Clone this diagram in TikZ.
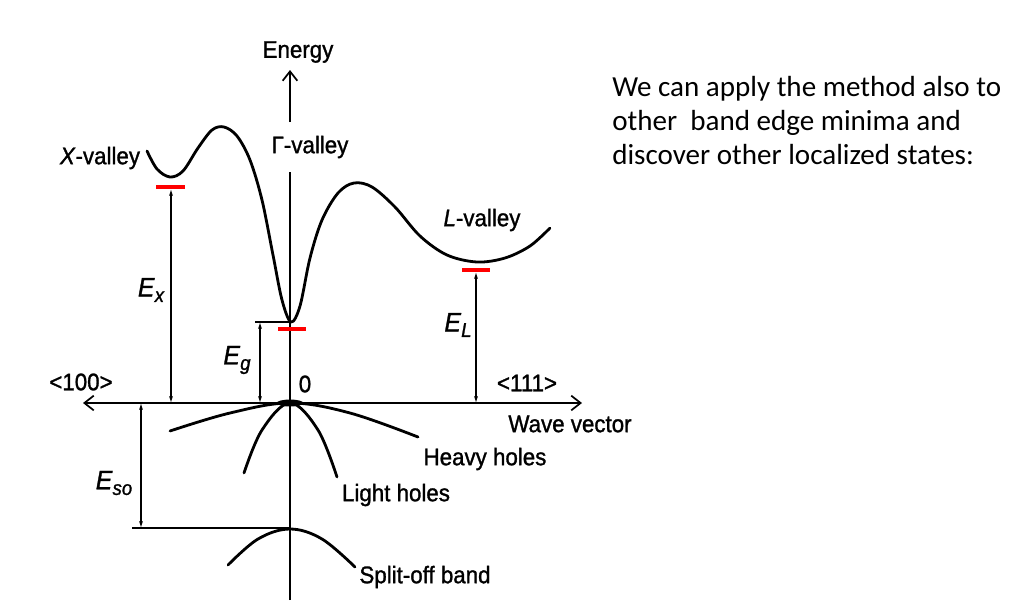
\documentclass[tikz,border=0pt]{standalone}
\usepackage{fontspec}
\setmainfont{Carlito}
\newfontfamily\din[FakeStretch=0.93,FakeBold=1.2]{Liberation Sans}
\usetikzlibrary{arrows.meta}
\newcommand{\sbx}[1]{\raisebox{-0.4ex}{\fontsize{15}{15}\selectfont\itshape #1}}
\begin{document}
\begin{tikzpicture}[x=0.75pt,y=-0.75pt,
  band/.style={line width=2.1pt, line cap=round, line join=round},
  thinline/.style={line width=0.9pt},
  dim/.style={line width=0.8pt, {Latex[length=5pt,width=3pt]}-{Latex[length=5pt,width=3pt]}},
  axisarrow/.style={line width=1.2pt, -{Straight Barb[length=7pt,width=11pt,line width=1.3pt]}},
  lab/.style={font=\din\fontsize{18}{18}\selectfont, inner sep=0pt},
  elab/.style={font=\din\fontsize{20}{20}\selectfont, inner sep=0pt},
  level/.style={line width=3pt, red},
  note/.style={font=\fontsize{21.8}{25.5}\selectfont, align=left, anchor=north west, inner sep=0pt}]
\useasboundingbox (0,0) rectangle (1021,615);
% axes
\coordinate (o) at (290,403);
\coordinate (xl) at (83,403);
\coordinate (xr) at (582,403);
\coordinate (ybot) at (290,600);
\coordinate (ytop) at (290,172);
\coordinate (ea) at (290,122);
\coordinate (eb) at (290,70);
\draw[axisarrow] (o) -- (xl);
\draw[axisarrow] (o) -- (xr);
\draw[line width=1.2pt] (ybot) -- (ytop);
\draw[axisarrow] (ea) -- (eb);
% conduction band
\draw[band] plot[smooth, tension=0.55] coordinates {(147,151) (157,169) (170,177) (183,171) (198,148) (212,130) (224,127) (237,136) (250,160) (262,200) (273,255) (282,300) (291,322) (300,306) (310,258) (322,220) (338,193) (354,183) (372,187) (395,207) (420,236) (447,255) (477,262) (505,258) (530,246) (550,228)};
% valence bands
\draw[band] plot[smooth, tension=0.6] coordinates {(170,431) (230,413) (290,403) (350,413) (418,437)};
\draw[band] plot[smooth, tension=0.6] coordinates {(244,473) (262,430) (290,403) (318,430) (337,477)};
\draw[band] plot[smooth, tension=0.6] coordinates {(228,565) (258,539) (290,529) (322,539) (355,567)};
\fill (o) ellipse (10pt and 2.6pt);
% energy gaps
\coordinate (xmin) at (171,189);
\coordinate (xbase) at (171,403);
\coordinate (lmin) at (476,272);
\coordinate (lbase) at (476,403);
\coordinate (gtop) at (260,322);
\coordinate (gbase) at (260,403);
\coordinate (gref) at (290,322);
\coordinate (stop) at (141,403);
\coordinate (sbot) at (141,528);
\coordinate (sref) at (290,528);
\coordinate (sleft) at (132,528);
\draw[dim] (xmin) -- (xbase);
\draw[dim] (lmin) -- (lbase);
\draw[dim] (gtop) -- (gbase);
\draw[thinline] (255,322) -- (gref);
\draw[dim] (stop) -- (sbot);
\draw[thinline] (sleft) -- (sref);
% red levels
\draw[level] (156,187) -- (185,187);
\draw[level] (278,329) -- (306,329);
\draw[level] (462,270) -- (490,270);
% labels
\node[lab] (energy) at (298,52) {Energy};
\node[lab] (xv) at (100,158) {\textit{X}-valley};
\node[lab] (gv) at (310,147) {Γ-valley};
\node[lab] (lv) at (482,220) {\textit{L}-valley};
\node[elab] (ex) at (151,290) {\textit{E}\sbx{x}};
\node[elab] (eg) at (237,360) {\textit{E}\sbx{g}};
\node[elab] (el) at (458,325) {\textit{E}\sbx{L}};
\node[elab] (eso) at (114,483) {\textit{E}\sbx{so}};
\node[lab] (d100) at (81,382) {<100>};
\node[lab] (d111) at (527,383) {<111>};
\node[lab] (zero) at (305,384) {0};
\node[lab] (wv) at (570,424) {Wave vector};
\node[lab] (hh) at (485,459) {Heavy holes};
\node[lab] (lh) at (396,495) {Light holes};
\node[lab] (so) at (425,577) {Split-off band};
\node[note] (txt) at (612,76) {We can apply the method also to\\other\ \ band edge minima and\\discover other localized states:};
\end{tikzpicture}
\end{document}
